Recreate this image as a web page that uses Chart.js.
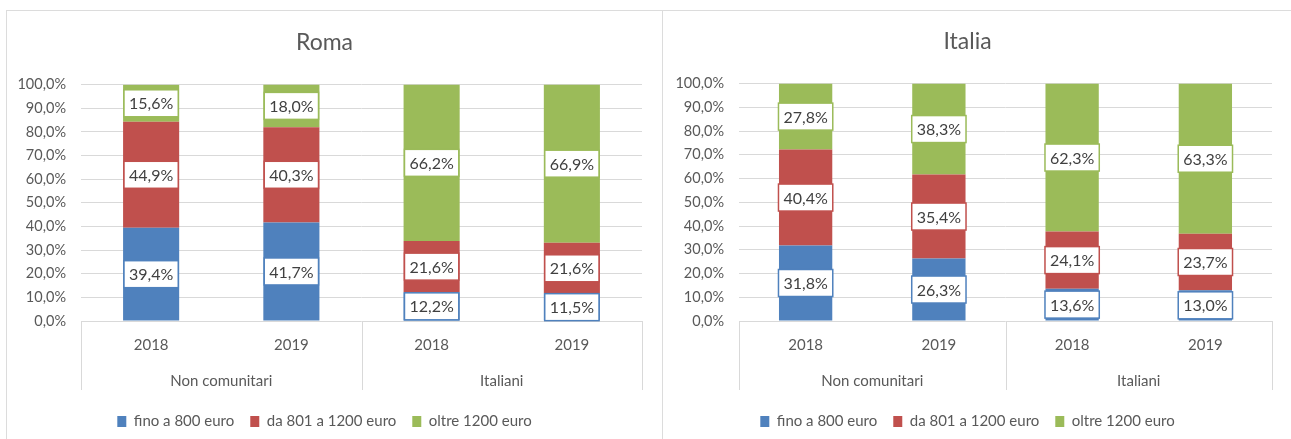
<!DOCTYPE html>
<html>
<head>
<meta charset="utf-8">
<script src="https://cdn.jsdelivr.net/npm/chart.js@4/dist/chart.umd.min.js"></script>
<style>
  body { margin: 0; background: #fff; width: 1291px; height: 439px; overflow: hidden; position: relative; }
  canvas { position: absolute; top: 11px; }
  #roma { left: 7px; }
  #italia { left: 663px; }
  .line { position: absolute; background: #dcdcdc; }
</style>
</head>
<body>
<div class="line" style="left:6px;top:10px;width:1285px;height:1px"></div>
<div class="line" style="left:6px;top:10px;width:1px;height:429px"></div>
<div class="line" style="left:662px;top:10px;width:1px;height:429px"></div>
<canvas id="roma" width="651" height="428"></canvas>
<canvas id="italia" width="628" height="428"></canvas>
<script>
const years = ['2018', '2019', '2018', '2019'];
const groups = ['Non comunitari', 'Italiani'];
const seriesNames = ['fino a 800 euro', 'da 801 a 1200 euro', 'oltre 1200 euro'];
const seriesColors = ['#4F81BD', '#C0504D', '#9BBB59'];

// Roma: Non comunitari 2018, 2019 / Italiani 2018, 2019
const romaFino = [39.4, 41.7, 12.2, 11.5];
const romaMedio = [44.9, 40.3, 21.6, 21.6];
const romaOltre = [15.6, 18.0, 66.2, 66.9];

// Italia
const italiaFino = [31.8, 26.3, 13.6, 13.0];
const italiaMedio = [40.4, 35.4, 24.1, 23.7];
const italiaOltre = [27.8, 38.3, 62.3, 63.3];

const fontFamily = 'Lato, "Open Sans", sans-serif';
const pct = v => v.toFixed(1).replace('.', ',') + '%';

// white boxes with the value, centred on each segment
const boxLabels = {
  id: 'boxLabels',
  afterDatasetsDraw(chart) {
    const ctx = chart.ctx;
    ctx.save();
    ctx.font = '16px ' + fontFamily;
    ctx.textAlign = 'center';
    ctx.textBaseline = 'middle';
    chart.data.datasets.forEach((ds, i) => {
      chart.getDatasetMeta(i).data.forEach((bar, j) => {
        const text = pct(ds.data[j]);
        const w = ctx.measureText(text).width + 10;
        const h = 27;
        const cy = (bar.y + bar.base) / 2;
        ctx.fillStyle = '#fff';
        ctx.fillRect(bar.x - w / 2, cy - h / 2, w, h);
        ctx.strokeStyle = ds.backgroundColor;
        ctx.lineWidth = 1.5;
        ctx.strokeRect(bar.x - w / 2, cy - h / 2, w, h);
        ctx.fillStyle = '#404040';
        ctx.fillText(text, bar.x, cy + 1);
      });
    });
    ctx.restore();
  }
};

// vertical separators of the two category groups
const groupLines = {
  id: 'groupLines',
  afterDraw(chart) {
    const ctx = chart.ctx;
    const x = chart.scales.x;
    const x2 = chart.scales.x2;
    const mid = (x.getPixelForValue(1) + x.getPixelForValue(2)) / 2;
    ctx.save();
    ctx.strokeStyle = '#d9d9d9';
    ctx.lineWidth = 1;
    [chart.chartArea.left, mid, chart.chartArea.right].forEach(px => {
      const p = Math.round(px) + 0.5;
      ctx.beginPath();
      ctx.moveTo(p, chart.chartArea.bottom);
      ctx.lineTo(p, x2.bottom - 8);
      ctx.stroke();
    });
    ctx.restore();
  }
};

function makeChart(id, title, fino, medio, oltre, opt) {
  const values = [fino, medio, oltre];
  new Chart(document.getElementById(id), {
    type: 'bar',
    data: {
      labels: years,
      datasets: seriesNames.map((name, i) => ({
        label: name,
        data: values[i],
        backgroundColor: seriesColors[i],
        borderWidth: 0,
        barPercentage: 0.4,
        categoryPercentage: 1
      }))
    },
    options: {
      responsive: false,
      animation: false,
      devicePixelRatio: 1,
      layout: { padding: { left: 0, right: opt.right, top: 0, bottom: 0 } },
      plugins: {
        title: {
          display: true,
          text: title,
          color: '#595959',
          font: { family: fontFamily, size: 23, weight: 'normal' },
          padding: { top: opt.titleTop, bottom: 28 }
        },
        legend: {
          position: 'bottom',
          labels: {
            color: '#595959',
            font: { family: fontFamily, size: 15 },
            boxWidth: 9,
            boxHeight: 11,
            padding: 16
          }
        },
        tooltip: { enabled: false }
      },
      scales: {
        x: {
          stacked: true,
          weight: 0,
          grid: { display: false, drawTicks: false },
          border: { display: false },
          ticks: { color: '#595959', font: { family: fontFamily, size: 15 }, padding: 15 },
          afterFit: s => { s.height = 39; }
        },
        x2: {
          type: 'category',
          labels: groups,
          position: 'bottom',
          weight: 1,
          offset: true,
          grid: { display: false, drawTicks: false },
          border: { display: false },
          ticks: { color: '#595959', font: { family: fontFamily, size: 15 }, padding: 12 },
          afterFit: s => { s.height = 38; }
        },
        y: {
          stacked: true,
          min: 0,
          max: 100,
          grid: { color: '#d9d9d9', drawTicks: false },
          border: { display: false },
          ticks: {
            stepSize: 10,
            color: '#595959',
            font: { family: fontFamily, size: 14.5 },
            padding: 15,
            callback: v => pct(v)
          },
          afterFit: s => { s.width = opt.left; }
        }
      }
    },
    plugins: [boxLabels, groupLines]
  });
}

makeChart('roma', 'Roma', romaFino, romaMedio, romaOltre, { left: 74, right: 16, titleTop: 18 });
makeChart('italia', 'Italia', italiaFino, italiaMedio, italiaOltre, { left: 76, right: 19, titleTop: 17 });
</script>
</body>
</html>
